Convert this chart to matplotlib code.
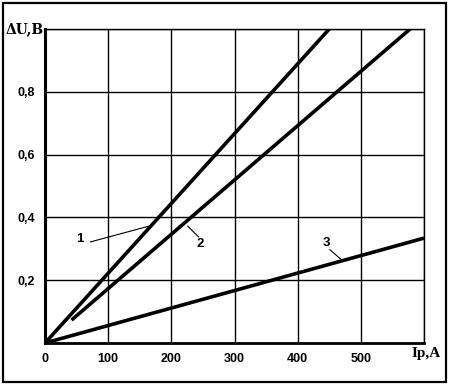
import numpy as np
import matplotlib.pyplot as plt
from matplotlib.patches import Rectangle

# data (Ip in A, dU in V)
line1_ip = [0, 450]
line1_du = [0.0, 1.0]
line2_ip = [42, 578]
line2_du = [0.073, 1.0]
line3_ip = [0, 600]
line3_du = [0.0, 0.334]

x_ticks = [0, 100, 200, 300, 400, 500, 600]
x_labels = ["0", "100", "200", "300", "400", "500", ""]
y_ticks = [0.0, 0.2, 0.4, 0.6, 0.8, 1.0]
y_labels = ["", "0,2", "0,4", "0,6", "0,8", ""]

# curve numbers: label position, leader start, leader end
curve_names = ["1", "2", "3"]
name_pos = [(55, 0.33), (245, 0.315), (446, 0.32)]
lead_from = [(72, 0.322), (226, 0.372), (451, 0.297)]
lead_to = [(168, 0.374), (243, 0.338), (470, 0.264)]

fig = plt.figure(figsize=(4.49, 3.85), dpi=100)
ax = fig.add_axes([45/449, 42/385, 379/449, 314/385])

ax.plot(line1_ip, line1_du, color="black", lw=2.6, solid_capstyle="butt")
ax.plot(line2_ip, line2_du, color="black", lw=2.6, solid_capstyle="butt")
ax.plot(line3_ip, line3_du, color="black", lw=2.6, solid_capstyle="butt")

for name, p, a, b in zip(curve_names, name_pos, lead_from, lead_to):
    ax.text(p[0], p[1], name, fontsize=9.5, fontweight="bold", family="Liberation Sans",
            ha="center", va="center")
    ax.plot([a[0], b[0]], [a[1], b[1]], color="black", lw=0.8)

ax.set_xlim(0, 600)
ax.set_ylim(0, 1.0)
ax.set_xticks(x_ticks)
ax.set_xticklabels(x_labels)
ax.set_yticks(y_ticks)
ax.set_yticklabels(y_labels)
ax.tick_params(length=0, pad=7, labelsize=9)
for lab in ax.get_xticklabels() + ax.get_yticklabels():
    lab.set_fontweight("bold")
    lab.set_family("Liberation Sans")

ax.grid(True, color="black", lw=1.0)
ax.spines["left"].set_linewidth(2.2)
ax.spines["bottom"].set_linewidth(2.0)
ax.spines["top"].set_linewidth(1.0)
ax.spines["right"].set_linewidth(1.0)

fig.text(25/449, 1 - 29/385, "ΔU,B", fontsize=10, fontweight="bold",
         family="DejaVu Serif", ha="center", va="center")
fig.text(426/449, 1 - 354/385, "Ip,A", fontsize=11, fontweight="bold",
         family="Liberation Serif", ha="center", va="center")

fig.patches.append(Rectangle((3/449, 3/385), 443/449, 379/385, transform=fig.transFigure,
                             fill=False, edgecolor="black", lw=1.6))

fig.savefig("out.png", dpi=100)
